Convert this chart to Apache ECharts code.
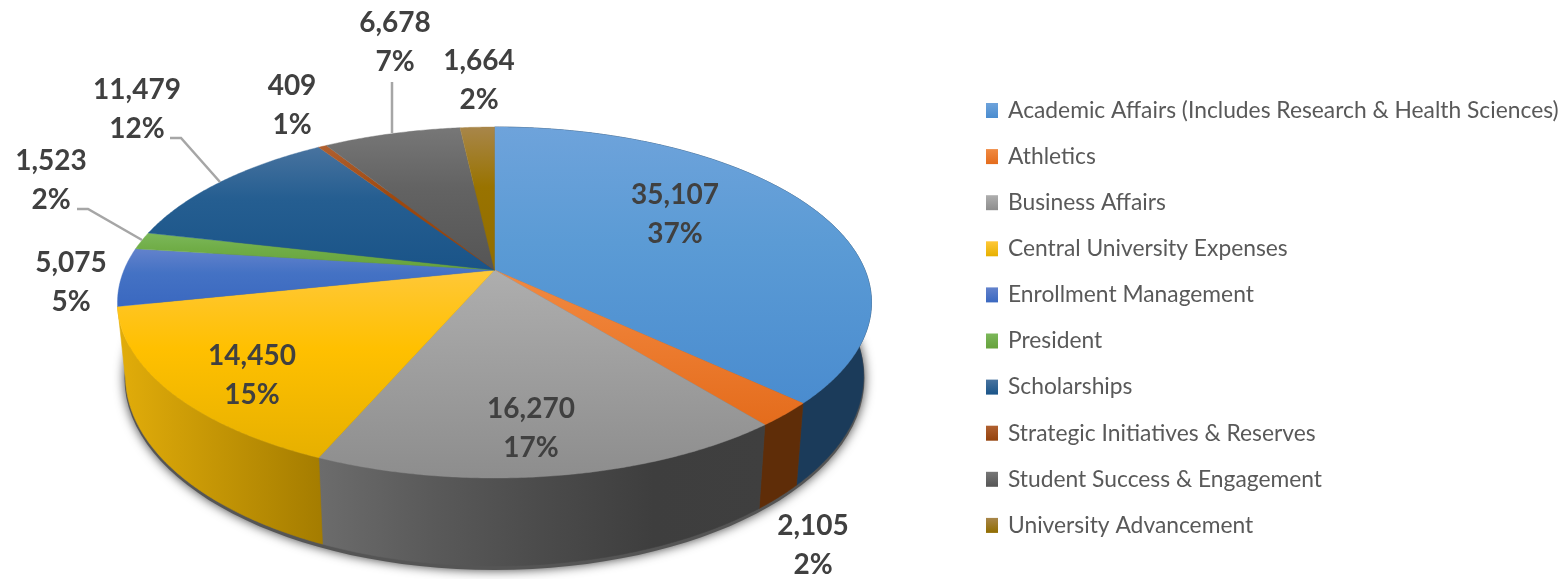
<!DOCTYPE html>
<html><head><meta charset="utf-8">
<style>html,body{margin:0;padding:0;background:#fff}#c{width:1566px;height:579px}</style>
<script src="https://cdn.jsdelivr.net/npm/echarts@6/dist/echarts.min.js"></script>
</head><body><div id="c"></div>
<script>
const categories = ['Academic Affairs (Includes Research & Health Sciences)','Athletics','Business Affairs','Central University Expenses','Enrollment Management','President','Scholarships','Strategic Initiatives & Reserves','Student Success & Engagement','University Advancement'];
const values = [35107,2105,16270,14450,5075,1523,11479,409,6678,1664];
const percentLabels = ['37%','2%','17%','15%','5%','2%','12%','1%','7%','2%'];

// styles
const topColors = [
 ['#6ea3db','#5b9bd5','#4a8ccf'],['#f08a42','#ed7d31','#e46c1c'],['#aeaeae','#a0a0a0','#8d8d8d'],
 ['#ffc838','#ffc000','#e6b000'],['#6382cc','#4472c4','#3a68c0'],['#7cb85a','#70ad47','#66a23c'],
 ['#48739f','#255e91','#1a5488'],['#b06030','#9e480e','#94420c'],['#777777','#636363','#555555'],['#a8864a','#997300','#916d00']];
const wallColors = [
 ['#1b3b5a','#1b3b5a'],['#5f2d08','#5f2d08'],['#6c6c6c','#5a5a5a','#4b4b4b','#3e3e3e','#3f3f3f'],['#e2ad0a','#a47c00'],null,null,null,null,null,null];

// layout of the drawing
const TOP = {cx:494.5, cy:302.5, rx:377, ry:175.5};
const BASE = {cx:494.5, cy:376, rx:369, ry:190};
const PIVOT_SHIFT = 0.185;   // perspective: how far the pie's centre sits behind the ellipse centre
const labelAt = [[675,214],[813,545.5],[531,428],[252,375],[71,282],[51,180.5],[137,109],[292,105],[395,42],[479,80]];
const leaders = {5:[[77,209],[88,209],[142,240]],6:[[170,138],[181,138],[220,182]],8:[[392,82],[392,133]]};

const total = values.reduce((a,b)=>a+b,0);
const starts = []; values.reduce((acc,v,i)=>{starts[i]=acc;return acc+v;},0);

function proj(a){ // true angle (clockwise from top) -> unit-disc point under perspective
  const u=Math.sin(a), v=Math.cos(a), c=PIVOT_SHIFT, d=1+c*v;
  return [u*Math.sqrt(1-c*c)/d,(v+c)/d];
}
const on=(e,p)=>[e.cx+e.rx*p[0], e.cy-e.ry*p[1]];
function arc(a0,a1){const n=Math.max(2,Math.ceil((a1-a0)/0.008)),r=[];for(let i=0;i<=n;i++)r.push(proj(a0+(a1-a0)*i/n));return r;}
const vGrad=c=>new echarts.graphic.LinearGradient(0,0,0,1,[{offset:0,color:c[0]},{offset:.42,color:c[1]},{offset:1,color:c[2]}]);
const hGrad=c=>new echarts.graphic.LinearGradient(0,0,1,0,c.map((color,k)=>({offset:k/(c.length-1),color})));

function slice(i){
  return function(params,api){
    const v=api.value(0), a0=starts[i]/total*2*Math.PI, a1=(starts[i]+v)/total*2*Math.PI;
    const rim=arc(a0,a1);
    const pivot=[TOP.cx,TOP.cy-TOP.ry*PIVOT_SHIFT];
    const kids=[];
    if(i===0) kids.push({type:'ellipse',z2:0,silent:true,
      shape:{cx:BASE.cx,cy:BASE.cy+2,rx:BASE.rx+1,ry:BASE.ry+2},
      style:{fill:'#555',shadowBlur:11,shadowColor:'rgba(0,0,0,0.75)'}});
    if(wallColors[i]){
      const wf=hGrad(wallColors[i]);
      kids.push({type:'polygon',z2:1,shape:{points:rim.map(p=>on(TOP,p)).concat(rim.slice().reverse().map(p=>on(BASE,p)))},
        style:{fill:wf,stroke:wf,lineWidth:.6}});
    }
    const tf=vGrad(topColors[i]);
    kids.push({type:'polygon',z2:10,shape:{points:[pivot].concat(rim.map(p=>on(TOP,p)))},
      style:{fill:tf,stroke:tf,lineWidth:.4}});
    if(leaders[i]) kids.push({type:'polyline',z2:15,shape:{points:leaders[i]},
      style:{fill:null,stroke:'#a6a6a6',lineWidth:2.5}});
    kids.push({type:'text',z2:20,style:{text:v.toLocaleString('en-US')+'\n'+percentLabels[i],
      x:labelAt[i][0],y:labelAt[i][1],align:'center',verticalAlign:'middle',
      fontFamily:'Lato',fontWeight:'bold',fontSize:28,lineHeight:39,fill:'#404040'}});
    return {type:'group',children:kids};
  };
}

const chart=echarts.init(document.getElementById('c'),null,{renderer:'canvas'});
chart.setOption({
  animation:false,
  backgroundColor:'#fff',
  legend:{
    orient:'vertical',left:981,top:94,itemWidth:12,itemHeight:15,itemGap:23.1,selectedMode:false,
    icon:'rect',data:categories,
    textStyle:{fontFamily:'Lato',fontSize:22.8,color:'#595959',padding:[0,0,0,5],height:15,lineHeight:15}
  },
  series:categories.map((name,i)=>({
    name,type:'custom',coordinateSystem:'none',renderItem:slice(i),data:[[values[i]]],silent:true,
    itemStyle:{color:new echarts.graphic.LinearGradient(0,0,0,1,[{offset:0,color:topColors[i][0]},{offset:1,color:topColors[i][2]}])}
  }))
});
</script></body></html>
